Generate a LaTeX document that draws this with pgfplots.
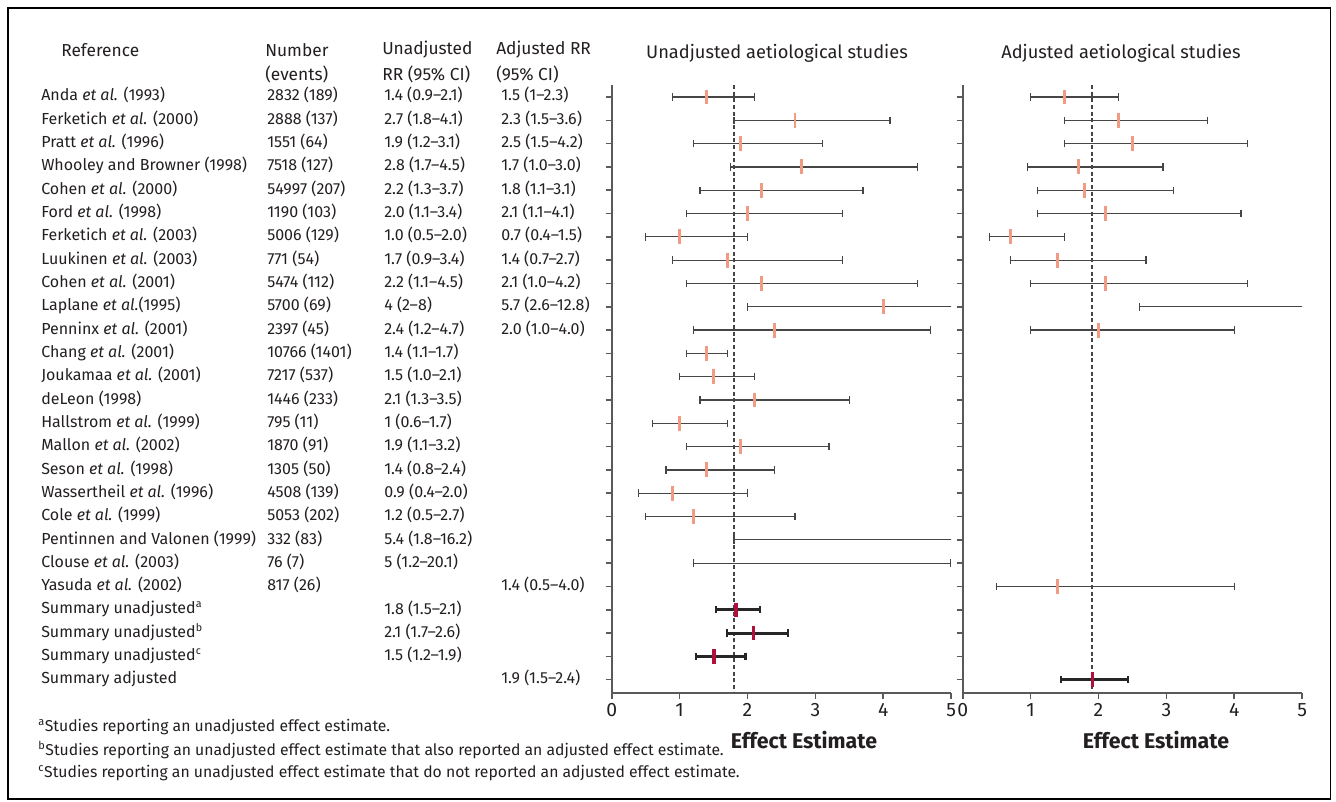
\documentclass[border=0pt]{standalone}
\usepackage{fontspec}
\setmainfont{Fira Sans}
\usepackage{pgfplots}
\pgfplotsset{compat=1.18}
\usepackage{pgfplotstable}

\definecolor{txt}{RGB}{35,31,32}
\definecolor{estc}{RGB}{242,155,132}
\definecolor{sumc}{RGB}{176,16,60}
\definecolor{barc}{RGB}{70,70,70}
\definecolor{axc}{RGB}{90,90,90}

% unadjusted studies: row, estimate, lower, upper
\pgfplotstableread{
row est lo hi
1 1.4 0.9 2.1
2 2.7 1.8 4.1
3 1.9 1.2 3.1
4 2.8 1.75 4.5
5 2.2 1.3 3.7
6 2.0 1.1 3.4
7 1.0 0.5 2.0
8 1.7 0.9 3.4
9 2.2 1.1 4.5
10 4.0 2.0 8.0
11 2.4 1.2 4.7
12 1.4 1.1 1.7
13 1.5 1.0 2.1
14 2.1 1.3 3.5
15 1.0 0.6 1.7
16 1.9 1.1 3.2
17 1.4 0.8 2.4
18 0.9 0.4 2.0
19 1.2 0.5 2.7
20 5.4 1.8 16.2
21 5.0 1.2 4.99
}\unadj

\pgfplotstableread{
row est lo hi
23 1.83 1.54 2.18
24 2.09 1.70 2.60
25 1.51 1.24 1.97
}\sumun

% adjusted studies
\pgfplotstableread{
row est lo hi
1 1.5 1.0 2.3
2 2.3 1.5 3.6
3 2.5 1.5 4.2
4 1.7 0.95 2.95
5 1.8 1.1 3.1
6 2.1 1.1 4.1
7 0.7 0.4 1.5
8 1.4 0.7 2.7
9 2.1 1.0 4.2
10 5.7 2.6 12.8
11 2.0 1.0 4.0
22 1.4 0.5 4.0
}\adj

\pgfplotstableread{
row est lo hi
26 1.91 1.45 2.43
}\sumadj

\pgfplotsset{
  fp/.style={
    scale only axis, width=254.6pt, height=455.775pt,
    xmin=0, xmax=5, ymin=0.485, ymax=26.56, y dir=reverse,
    axis x line*=bottom, axis y line*=left,
    axis line style={axc, line width=1.2pt, -},
    xtick={0,1,2,3,4,5}, ytick={1,...,26}, yticklabels={},
    tick align=outside, major tick length=4.5pt,
    every tick/.style={axc, line width=1.2pt},
    x tick label style={font=\fontsize{14.5}{16}\selectfont, text=txt},
    /pgf/number format/assume math mode=true,
    clip=true,
  },
  ebar/.style={forget plot, draw=none, mark=none,
    error bars/.cd, x dir=both, x explicit, error mark=|,
    error bar style={draw=barc, line width=0.9pt},
    error mark options={draw=barc, line width=0.9pt, mark size=2.8pt}},
  sbar/.style={forget plot, draw=none, mark=none,
    error bars/.cd, x dir=both, x explicit, error mark=|,
    error bar style={draw=black!85, line width=2.3pt},
    error mark options={draw=black!85, line width=1.6pt, mark size=2.8pt}},
}

\newcommand\rowfont{\fontsize{12}{14}\selectfont}
\newcommand\hdfont{\fontsize{13}{15}\selectfont}

\begin{document}
\begin{tikzpicture}
\path[use as bounding box] (0,0) rectangle (1002pt,-600.75pt);
\draw[line width=1.4pt, black] (6.3pt,-6.1pt) rectangle (997.9pt,-599.3pt);

% ---------------- Unadjusted panel
\begin{axis}[fp, at={(458.775pt,-519.525pt)}, anchor=south west]
\addplot[barc, line width=1.5pt, dash pattern=on 3pt off 2pt, forget plot] coordinates {(1.8,0.485) (1.8,26.56)};
\addplot[ebar] table[x=est, y=row, x error plus expr=\thisrow{hi}-\thisrow{est}, x error minus expr=\thisrow{est}-\thisrow{lo}] {\unadj};
\addplot[only marks, mark=|, mark size=5.6pt, mark options={draw=estc, line width=2.2pt}, restrict x to domain=0:4.98] table[x=est, y=row] {\unadj};
\addplot[sbar] table[x=est, y=row, x error plus expr=\thisrow{hi}-\thisrow{est}, x error minus expr=\thisrow{est}-\thisrow{lo}] {\sumun};
\addplot[only marks, mark=|, mark size=5.4pt, mark options={draw=sumc, line width=2.6pt}] table[x=est, y=row] {\sumun};
\end{axis}

% ---------------- Adjusted panel
\begin{axis}[fp, at={(722.025pt,-519.525pt)}, anchor=south west]
\addplot[barc, line width=1.5pt, dash pattern=on 3pt off 2pt, forget plot] coordinates {(1.9,0.485) (1.9,26.56)};
\addplot[ebar] table[x=est, y=row, x error plus expr=\thisrow{hi}-\thisrow{est}, x error minus expr=\thisrow{est}-\thisrow{lo}] {\adj};
\addplot[only marks, mark=|, mark size=5.6pt, mark options={draw=estc, line width=2.2pt}, restrict x to domain=0:4.98] table[x=est, y=row] {\adj};
\addplot[sbar] table[x=est, y=row, x error plus expr=\thisrow{hi}-\thisrow{est}, x error minus expr=\thisrow{est}-\thisrow{lo}] {\sumadj};
\addplot[only marks, mark=|, mark size=5.4pt, mark options={draw=sumc, line width=2.6pt}] table[x=est, y=row] {\sumadj};
\end{axis}

\begin{scope}[x=0.75pt, y=-0.75pt, every node/.style={inner sep=0pt, text=txt}]
% headers
\node[anchor=west, font=\hdfont] at (61,50) {Reference};
\node[anchor=west, font=\hdfont] at (265,50) {Number};
\node[anchor=west, font=\hdfont] at (265,74) {(events)};
\node[anchor=west, font=\hdfont] at (382,50) {Unadjusted};
\node[anchor=west, font=\hdfont] at (382,74) {RR (95\% CI)};
\node[anchor=west, font=\hdfont] at (496,50) {Adjusted RR};
\node[anchor=west, font=\hdfont] at (496,74) {(95\% CI)};
% panel titles
\node[font=\fontsize{13.7}{16}\selectfont] at (777,53) {Unadjusted aetiological studies};
\node[font=\fontsize{13.7}{16}\selectfont] at (1121,53) {Adjusted aetiological studies};
% x labels
\node[font=\fontsize{16}{18}\selectfont\bfseries] at (804,740) {Effect Estimate};
\node[font=\fontsize{16}{18}\selectfont\bfseries] at (1156,740) {Effect Estimate};
% rows
\foreach \i/\a/\b/\c/\d in {
1/{Anda \textit{et al.} (1993)}/{2832 (189)}/{1.4 (0.9–2.1)}/{1.5 (1–2.3)},
2/{Ferketich \textit{et al.} (2000)}/{2888 (137)}/{2.7 (1.8–4.1)}/{2.3 (1.5–3.6)},
3/{Pratt \textit{et al.} (1996)}/{1551 (64)}/{1.9 (1.2–3.1)}/{2.5 (1.5–4.2)},
4/{Whooley and Browner (1998)}/{7518 (127)}/{2.8 (1.7–4.5)}/{1.7 (1.0–3.0)},
5/{Cohen \textit{et al.} (2000)}/{54997 (207)}/{2.2 (1.3–3.7)}/{1.8 (1.1–3.1)},
6/{Ford \textit{et al.} (1998)}/{1190 (103)}/{2.0 (1.1–3.4)}/{2.1 (1.1–4.1)},
7/{Ferketich \textit{et al.} (2003)}/{5006 (129)}/{1.0 (0.5–2.0)}/{0.7 (0.4–1.5)},
8/{Luukinen \textit{et al.} (2003)}/{771 (54)}/{1.7 (0.9–3.4)}/{1.4 (0.7–2.7)},
9/{Cohen \textit{et al.} (2001)}/{5474 (112)}/{2.2 (1.1–4.5)}/{2.1 (1.0–4.2)},
10/{Laplane \textit{et al.}(1995)}/{5700 (69)}/{4 (2–8)}/{5.7 (2.6–12.8)},
11/{Penninx \textit{et al.} (2001)}/{2397 (45)}/{2.4 (1.2–4.7)}/{2.0 (1.0–4.0)},
12/{Chang \textit{et al.} (2001)}/{10766 (1401)}/{1.4 (1.1–1.7)}/{},
13/{Joukamaa \textit{et al.} (2001)}/{7217 (537)}/{1.5 (1.0–2.1)}/{},
14/{deLeon (1998)}/{1446 (233)}/{2.1 (1.3–3.5)}/{},
15/{Hallstrom \textit{et al.} (1999)}/{795 (11)}/{1 (0.6–1.7)}/{},
16/{Mallon \textit{et al.} (2002)}/{1870 (91)}/{1.9 (1.1–3.2)}/{},
17/{Seson \textit{et al.} (1998)}/{1305 (50)}/{1.4 (0.8–2.4)}/{},
18/{Wassertheil \textit{et al.} (1996)}/{4508 (139)}/{0.9 (0.4–2.0)}/{},
19/{Cole \textit{et al.} (1999)}/{5053 (202)}/{1.2 (0.5–2.7)}/{},
20/{Pentinnen and Valonen (1999)}/{332 (83)}/{5.4 (1.8–16.2)}/{},
21/{Clouse \textit{et al.} (2003)}/{76 (7)}/{5 (1.2–20.1)}/{},
22/{Yasuda \textit{et al.} (2002)}/{817 (26)}/{}/{1.4 (0.5–4.0)},
23/{Summary unadjusted\textsuperscript{a}}/{}/{1.8 (1.5–2.1)}/{},
24/{Summary unadjusted\textsuperscript{b}}/{}/{2.1 (1.7–2.6)}/{},
25/{Summary unadjusted\textsuperscript{c}}/{}/{1.5 (1.2–1.9)}/{},
26/{Summary adjusted}/{}/{}/{1.9 (1.5–2.4)}}
{
  \pgfmathsetmacro\yy{97+(\i-1)*23.32}
  \node[anchor=west, font=\rowfont] at (41,\yy) {\strut\a};
  \node[anchor=west, font=\rowfont] at (267,\yy) {\strut\b};
  \node[anchor=west, font=\rowfont] at (384,\yy) {\strut\c};
  \node[anchor=west, font=\rowfont] at (501,\yy) {\strut\d};
}
% footnotes
\node[anchor=west, font=\fontsize{11.8}{14}\selectfont] at (38,727) {\textsuperscript{a}Studies reporting an unadjusted effect estimate.};
\node[anchor=west, font=\fontsize{11.8}{14}\selectfont] at (38,750) {\textsuperscript{b}Studies reporting an unadjusted effect estimate that also reported an adjusted effect estimate.};
\node[anchor=west, font=\fontsize{11.8}{14}\selectfont] at (38,773) {\textsuperscript{c}Studies reporting an unadjusted effect estimate that do not reported an adjusted effect estimate.};
\end{scope}
\end{tikzpicture}
\end{document}
